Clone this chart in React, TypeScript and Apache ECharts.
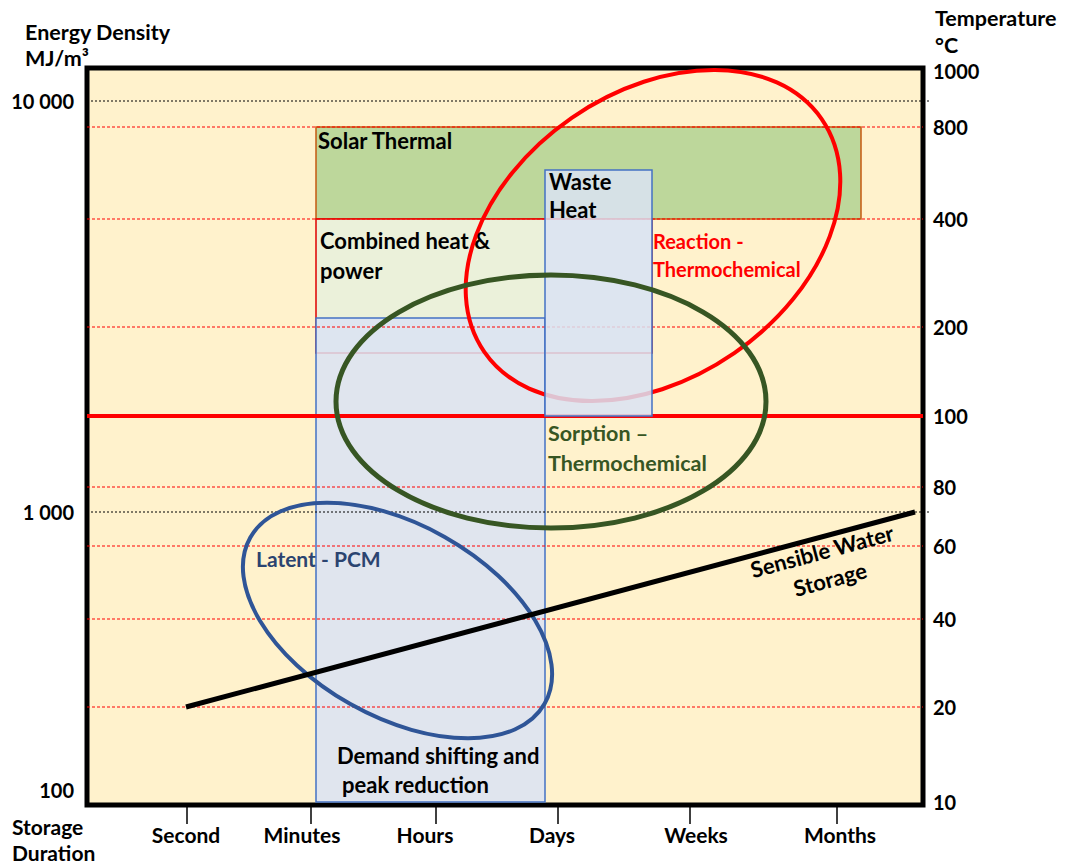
import React, { useEffect, useRef } from "react";
import * as echarts from "echarts";

// ---- Data (diagram units: x across the duration band, y up the density band) ----
const durations = ["Second", "Minutes", "Hours", "Days", "Weeks", "Months"];
const durationTickPos = [100, 224, 349, 471, 603, 750];
const durationLabelPos = [99, 215, 338, 465, 609, 753];

const energyLabels = ["10 000", "1 000", "100"];
const energyPos = [704, 293, 15];
const energyGridPos = [704, 293];

const temperatures = [1000, 800, 400, 200, 100, 80, 60, 40, 20, 10];
const temperaturePos = [734, 678, 586, 478, 389, 318, 259, 186, 98, 3];
const temperatureGrid = [800, 400, 200, 80, 60, 40, 20];
const temperatureLimit = 100;

// application areas [x0, y0, x1, y1]
const solarThermal = [229, 678, 774, 586];
const combinedHeatPower = [229, 586, 565, 452];
const demandShifting = [229, 487, 458, 3];
const wasteHeat = [458, 635, 565, 389];

// technology ellipses [cx, cy, rx, ry, rotation deg]
const reactionEllipse = [566, 569.5, 205, 143, 34.6];
const sorptionEllipse = [464, 403.5, 215, 126.5, 0];
const latentEllipse = [310.5, 184.5, 169, 96, -29.4];

// sensible water storage line
const sensibleWater = [
  [99, 98],
  [828, 293],
];

const X_MAX = 836;
const Y_MAX = 737;
const FONT = "Lato";

function lookup(v: number, pos: number[], labels: (string | number)[]) {
  const i = pos.findIndex((p) => Math.abs(p - v) < 0.5);
  return i >= 0 ? String(labels[i]) : "";
}

function rectSeries(name: string, rect: number[], fill: string, stroke: string, lw: number, z: number) {
  return {
    type: "custom",
    name,
    z,
    coordinateSystem: "cartesian2d",
    data: [rect],
    renderItem: (_p: any, api: any) => {
      const a = api.coord([api.value(0), api.value(1)]);
      const b = api.coord([api.value(2), api.value(3)]);
      return {
        type: "rect",
        shape: {
          x: Math.min(a[0], b[0]),
          y: Math.min(a[1], b[1]),
          width: Math.abs(b[0] - a[0]),
          height: Math.abs(b[1] - a[1]),
        },
        style: { fill, stroke, lineWidth: lw },
      };
    },
  };
}

function ellipseSeries(name: string, e: number[], stroke: string, lw: number, z: number) {
  return {
    type: "custom",
    name,
    z,
    coordinateSystem: "cartesian2d",
    data: [e],
    renderItem: (_p: any, api: any) => {
      const c = api.coord([api.value(0), api.value(1)]);
      const s = api.size([api.value(2), api.value(3)]);
      return {
        type: "ellipse",
        x: c[0],
        y: c[1],
        rotation: (api.value(4) * Math.PI) / 180,
        shape: { cx: 0, cy: 0, rx: s[0], ry: s[1] },
        style: { fill: "none", stroke, lineWidth: lw },
      };
    },
  };
}

function txt(text: string, x: number, y: number, size: number, color = "#000", align = "left", rotation = 0) {
  return {
    type: "text",
    x,
    y,
    z: 100,
    rotation,
    style: {
      text,
      fill: color,
      fontFamily: FONT,
      fontWeight: "bold",
      fontSize: size,
      textAlign: align,
      align,
      textVerticalAlign: "middle",
      verticalAlign: "middle",
    },
  };
}

export default function App() {
  const ref = useRef<HTMLDivElement>(null);
  useEffect(() => {
    if (!ref.current) return;
    const chart = echarts.init(ref.current, undefined, { renderer: "svg" });
    const tempGridPos = temperatureGrid.map((t) => temperaturePos[temperatures.indexOf(t)]);
    const limitPos = temperaturePos[temperatures.indexOf(temperatureLimit)];
    const gridData = [
      ...energyGridPos.map((y) => [y, 0]),
      ...tempGridPos.map((y) => [y, 1]),
    ];
    const labelStyle = { color: "#000", fontFamily: FONT, fontWeight: "bold", fontSize: 20 };
    const option: any = {
      animation: false,
      grid: {
        left: 87,
        top: 68,
        width: X_MAX,
        height: Y_MAX,
        show: true,
        backgroundColor: "#FFF2CC",
        borderColor: "#000",
        borderWidth: 5,
        containLabel: false,
        outerBoundsMode: "none",
      },
      xAxis: {
        type: "value",
        min: 0,
        max: X_MAX,
        axisLine: { show: false },
        splitLine: { show: false },
        axisTick: {
          show: true,
          customValues: durationTickPos,
          length: 19,
          lineStyle: { color: "#000", width: 1.5 },
        },
        axisLabel: {
          ...labelStyle,
          fontSize: 21,
          customValues: durationLabelPos,
          margin: 19,
          formatter: (v: number) => lookup(v, durationLabelPos, durations),
        },
      },
      yAxis: [
        {
          type: "value",
          min: 0,
          max: Y_MAX,
          position: "left",
          axisLine: { show: false },
          axisTick: { show: false },
          splitLine: { show: false },
          axisLabel: {
            ...labelStyle,
            customValues: energyPos,
            margin: 13,
            formatter: (v: number) => lookup(v, energyPos, energyLabels),
          },
        },
        {
          type: "value",
          min: 0,
          max: Y_MAX,
          position: "right",
          axisLine: { show: false },
          axisTick: { show: false },
          splitLine: { show: false },
          axisLabel: {
            ...labelStyle,
            customValues: temperaturePos,
            margin: 10,
            formatter: (v: number) => lookup(v, temperaturePos, temperatures),
          },
        },
      ],
      series: [
        rectSeries("Solar Thermal", solarThermal, "#BDD79B", "#C55A11", 1.5, 1),
        rectSeries("Combined heat & power", combinedHeatPower, "#EBF1DA", "#E00000", 1.5, 2),
        rectSeries("Demand shifting and peak reduction", demandShifting, "rgba(218,227,243,0.85)", "#4472C4", 1.5, 3),
        {
          type: "custom",
          name: "Grid",
          z: 4,
          coordinateSystem: "cartesian2d",
          data: gridData,
          renderItem: (_p: any, api: any) => {
            const kind = api.value(1);
            const a = api.coord([0, api.value(0)]);
            const b = api.coord([kind === 0 ? X_MAX + 7 : X_MAX, api.value(0)]);
            return {
              type: "line",
              shape: { x1: a[0], y1: a[1], x2: b[0], y2: b[1] },
              style: {
                stroke: kind === 0 ? "#000" : "#FF0000",
                lineWidth: 1,
                lineDash: kind === 0 ? [2, 2] : [3, 2],
              },
            };
          },
        },
        ellipseSeries("Reaction - Thermochemical", reactionEllipse, "#FF0000", 4, 5),
        {
          type: "line",
          name: "100 °C",
          z: 6,
          symbol: "none",
          data: [
            [0, limitPos],
            [X_MAX, limitPos],
          ],
          lineStyle: { color: "#FF0000", width: 4 },
        },
        rectSeries("Waste Heat", wasteHeat, "rgba(218,227,243,0.85)", "#4472C4", 1.5, 7),
        ellipseSeries("Sorption – Thermochemical", sorptionEllipse, "#375623", 5, 8),
        ellipseSeries("Latent - PCM", latentEllipse, "#2F5597", 4, 9),
        {
          type: "line",
          name: "Sensible Water Storage",
          z: 10,
          symbol: "none",
          data: sensibleWater,
          lineStyle: { color: "#000", width: 5 },
        },
      ],
      graphic: [
        txt("Energy Density", 25, 32, 21.5),
        txt("MJ/m³", 25, 58, 21.5),
        txt("Temperature", 935, 18, 21.5),
        txt("°C", 935, 45, 21.5),
        txt("Storage", 12, 826, 21),
        txt("Duration", 12, 852, 21),
        txt("Solar Thermal", 318, 140, 22),
        txt("Combined heat &", 320, 240, 22),
        txt("power", 320, 270, 22),
        txt("Waste", 549, 181, 22),
        txt("Heat", 549, 209, 22),
        txt("Reaction -", 653, 241, 20, "#FF0000"),
        txt("Thermochemical", 653, 269, 20, "#FF0000"),
        txt("Sorption –", 548, 433, 21.5, "#375623"),
        txt("Thermochemical", 548, 463, 21.5, "#375623"),
        txt("Latent - PCM", 256, 558, 21, "#2B4470"),
        txt("Demand shifting and", 337, 755, 22),
        txt("peak reduction", 342, 784, 22),
        txt("Sensible Water", 822, 551, 22, "#000", "center", (15 * Math.PI) / 180),
        txt("Storage", 830, 579, 22, "#000", "center", (15 * Math.PI) / 180),
      ],
    };
    chart.setOption(option);
    return () => chart.dispose();
  }, []);
  return (
    <div
      ref={ref}
      style={{ position: "fixed", left: 0, top: 0, width: 1066, height: 864, background: "#fff" }}
    />
  );
}
